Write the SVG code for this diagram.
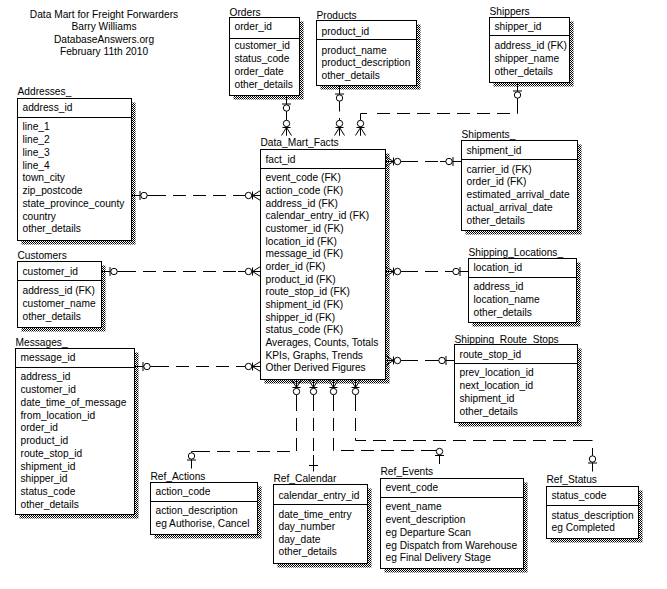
<svg xmlns="http://www.w3.org/2000/svg" xmlns:xlink="http://www.w3.org/1999/xlink" width="667" height="589" viewBox="0 0 667 589">
<style>
.t{font-family:"Liberation Sans",Arial,sans-serif;font-size:10.2px;fill:#000}
.b{fill:#fff;stroke:#000;stroke-width:1}
.s{fill:url(#dots)}
.h{stroke:#000;stroke-width:1}
.c{fill:none;stroke:#000;stroke-width:1}
.d{stroke-dasharray:13 7}
.m line{stroke:#000;stroke-width:1}
.m circle{fill:#fff;stroke:#000;stroke-width:1}
</style>
<defs>
<pattern id="dots" width="2" height="2" patternUnits="userSpaceOnUse">
<rect x="0" y="0" width="1" height="1" fill="#000"/>
<rect x="1" y="1" width="1" height="1" fill="#000"/>
</pattern>
<g id="zo" class="m">
<line x1="8.5" y1="-4.5" x2="8.5" y2="4.5"/>
<circle cx="12.5" cy="0" r="3.2"/>
</g>
<g id="zm" class="m">
<line x1="0" y1="-5" x2="8" y2="0"/>
<line x1="0" y1="5" x2="8" y2="0"/>
<line x1="0" y1="0" x2="8" y2="0"/>
<line x1="8" y1="-4" x2="8" y2="4"/>
<circle cx="12" cy="0" r="3.2"/>
</g>
</defs>
<rect x="0" y="0" width="667" height="589" fill="#fff"/>

<g id="title">
<text class="t" x="104" y="17.7" text-anchor="middle">Data Mart for Freight Forwarders</text>
<text class="t" x="104" y="30.4" text-anchor="middle">Barry Williams</text>
<text class="t" x="104" y="43" text-anchor="middle">DatabaseAnswers.org</text>
<text class="t" x="104" y="55.4" text-anchor="middle">February 11th 2010</text>
</g>

<g id="Addresses">
<rect class="s" x="21.5" y="102.5" width="114" height="142"/>
<rect class="b" x="17.5" y="98.5" width="114" height="142"/>
<line class="h" x1="17.5" y1="117.5" x2="131.5" y2="117.5"/>
<text class="t" x="17.5" y="95">Addresses_</text>
<text class="t" x="22.5" y="111.4">address_id</text>
<text class="t" x="22.5" y="130.3">line_1</text>
<text class="t" x="22.5" y="143.05">line_2</text>
<text class="t" x="22.5" y="155.8">line_3</text>
<text class="t" x="22.5" y="168.55">line_4</text>
<text class="t" x="22.5" y="181.3">town_city</text>
<text class="t" x="22.5" y="194.05">zip_postcode</text>
<text class="t" x="22.5" y="206.8">state_province_county</text>
<text class="t" x="22.5" y="219.55">country</text>
<text class="t" x="22.5" y="232.3">other_details</text>
</g>

<g id="Orders">
<rect class="s" x="233.5" y="21.5" width="70" height="78"/>
<rect class="b" x="229.5" y="17.5" width="70" height="78"/>
<line class="h" x1="229.5" y1="38.5" x2="299.5" y2="38.5"/>
<text class="t" x="229.5" y="15.7">Orders_</text>
<text class="t" x="234.5" y="29.7">order_id</text>
<text class="t" x="234.5" y="49.4">customer_id</text>
<text class="t" x="234.5" y="62.1">status_code</text>
<text class="t" x="234.5" y="74.9">order_date</text>
<text class="t" x="234.5" y="87.6">other_details</text>
</g>

<g id="Products">
<rect class="s" x="320.5" y="24.5" width="100" height="65"/>
<rect class="b" x="316.5" y="20.5" width="100" height="65"/>
<line class="h" x1="316.5" y1="39.5" x2="416.5" y2="39.5"/>
<text class="t" x="316.5" y="18.7">Products</text>
<text class="t" x="321.5" y="34.7">product_id</text>
<text class="t" x="321.5" y="53.5">product_name</text>
<text class="t" x="321.5" y="66">product_description</text>
<text class="t" x="321.5" y="78.5">other_details</text>
</g>

<g id="Shippers">
<rect class="s" x="493.5" y="21.5" width="80" height="65"/>
<rect class="b" x="489.5" y="17.5" width="80" height="65"/>
<line class="h" x1="489.5" y1="35.5" x2="569.5" y2="35.5"/>
<text class="t" x="489.5" y="15.4">Shippers</text>
<text class="t" x="494.5" y="30.4">shipper_id</text>
<text class="t" x="494.5" y="49.4">address_id (FK)</text>
<text class="t" x="494.5" y="62.1">shipper_name</text>
<text class="t" x="494.5" y="74.8">other_details</text>
</g>

<g id="Shipments">
<rect class="s" x="465.5" y="144.5" width="116" height="90"/>
<rect class="b" x="461.5" y="140.5" width="116" height="90"/>
<line class="h" x1="461.5" y1="159.5" x2="577.5" y2="159.5"/>
<text class="t" x="461.5" y="137.7">Shipments_</text>
<text class="t" x="466.5" y="153.7">shipment_id</text>
<text class="t" x="466.5" y="172.7">carrier_id (FK)</text>
<text class="t" x="466.5" y="185.4">order_id (FK)</text>
<text class="t" x="466.5" y="198.1">estimated_arrival_date</text>
<text class="t" x="466.5" y="210.8">actual_arrival_date</text>
<text class="t" x="466.5" y="223.5">other_details</text>
</g>

<g id="Data_Mart_Facts">
<rect class="s" x="264.5" y="153.5" width="125" height="230"/>
<rect class="b" x="260.5" y="149.5" width="125" height="230"/>
<line class="h" x1="260.5" y1="168.5" x2="385.5" y2="168.5"/>
<text class="t" x="260.5" y="146.4">Data_Mart_Facts</text>
<text class="t" x="265.5" y="162.7">fact_id</text>
<text class="t" x="265.5" y="181.4">event_code (FK)</text>
<text class="t" x="265.5" y="194.07">action_code (FK)</text>
<text class="t" x="265.5" y="206.74">address_id (FK)</text>
<text class="t" x="265.5" y="219.41">calendar_entry_id (FK)</text>
<text class="t" x="265.5" y="232.08">customer_id (FK)</text>
<text class="t" x="265.5" y="244.75">location_id (FK)</text>
<text class="t" x="265.5" y="257.42">message_id (FK)</text>
<text class="t" x="265.5" y="270.09">order_id (FK)</text>
<text class="t" x="265.5" y="282.76">product_id (FK)</text>
<text class="t" x="265.5" y="295.43">route_stop_id (FK)</text>
<text class="t" x="265.5" y="308.1">shipment_id (FK)</text>
<text class="t" x="265.5" y="320.77">shipper_id (FK)</text>
<text class="t" x="265.5" y="333.44">status_code (FK)</text>
<text class="t" x="265.5" y="346.11">Averages, Counts, Totals</text>
<text class="t" x="265.5" y="358.78">KPIs, Graphs, Trends</text>
<text class="t" x="265.5" y="371.45">Other Derived Figures</text>
</g>

<g id="Customers">
<rect class="s" x="21.5" y="265.5" width="84" height="66"/>
<rect class="b" x="17.5" y="261.5" width="84" height="66"/>
<line class="h" x1="17.5" y1="280.5" x2="101.5" y2="280.5"/>
<text class="t" x="17.5" y="258.7">Customers</text>
<text class="t" x="22.5" y="274.7">customer_id</text>
<text class="t" x="22.5" y="293.7">address_id (FK)</text>
<text class="t" x="22.5" y="306.7">customer_name</text>
<text class="t" x="22.5" y="319.5">other_details</text>
</g>

<g id="Messages">
<rect class="s" x="19.5" y="352.5" width="119" height="166"/>
<rect class="b" x="15.5" y="348.5" width="119" height="166"/>
<line class="h" x1="15.5" y1="367.5" x2="134.5" y2="367.5"/>
<text class="t" x="15.5" y="346.4">Messages_</text>
<text class="t" x="20.5" y="361.4">message_id</text>
<text class="t" x="20.5" y="380.4">address_id</text>
<text class="t" x="20.5" y="393.13">customer_id</text>
<text class="t" x="20.5" y="405.86">date_time_of_message</text>
<text class="t" x="20.5" y="418.59">from_location_id</text>
<text class="t" x="20.5" y="431.32">order_id</text>
<text class="t" x="20.5" y="444.05">product_id</text>
<text class="t" x="20.5" y="456.78">route_stop_id</text>
<text class="t" x="20.5" y="469.51">shipment_id</text>
<text class="t" x="20.5" y="482.24">shipper_id</text>
<text class="t" x="20.5" y="494.97">status_code</text>
<text class="t" x="20.5" y="507.7">other_details</text>
</g>

<g id="Shipping_Locations">
<rect class="s" x="472.5" y="262.5" width="108" height="64"/>
<rect class="b" x="468.5" y="258.5" width="108" height="64"/>
<line class="h" x1="468.5" y1="277.5" x2="576.5" y2="277.5"/>
<text class="t" x="468.5" y="256">Shipping_Locations_</text>
<text class="t" x="473.5" y="271.4">location_id</text>
<text class="t" x="473.5" y="290.4">address_id</text>
<text class="t" x="473.5" y="303.1">location_name</text>
<text class="t" x="473.5" y="315.9">other_details</text>
</g>

<g id="Shipping_Route_Stops">
<rect class="s" x="458.5" y="348.5" width="123" height="78"/>
<rect class="b" x="454.5" y="344.5" width="123" height="78"/>
<line class="h" x1="454.5" y1="363.5" x2="577.5" y2="363.5"/>
<text class="t" x="454.5" y="342.7">Shipping_Route_Stops_</text>
<text class="t" x="459.5" y="357.7">route_stop_id</text>
<text class="t" x="459.5" y="376.4">prev_location_id</text>
<text class="t" x="459.5" y="389.2">next_location_id</text>
<text class="t" x="459.5" y="402">shipment_id</text>
<text class="t" x="459.5" y="414.6">other_details</text>
</g>

<g id="Ref_Actions">
<rect class="s" x="154.5" y="486.5" width="107" height="52"/>
<rect class="b" x="150.5" y="482.5" width="107" height="52"/>
<line class="h" x1="150.5" y1="501.5" x2="257.5" y2="501.5"/>
<text class="t" x="150.5" y="479.7">Ref_Actions</text>
<text class="t" x="155.5" y="495.4">action_code</text>
<text class="t" x="155.5" y="514.4">action_description</text>
<text class="t" x="155.5" y="527.4">eg Authorise, Cancel</text>
</g>

<g id="Ref_Calendar">
<rect class="s" x="277.5" y="488.5" width="94" height="79"/>
<rect class="b" x="273.5" y="484.5" width="94" height="79"/>
<line class="h" x1="273.5" y1="504.5" x2="367.5" y2="504.5"/>
<text class="t" x="273.5" y="482.4">Ref_Calendar</text>
<text class="t" x="278.5" y="498.7">calendar_entry_id</text>
<text class="t" x="278.5" y="517.7">date_time_entry</text>
<text class="t" x="278.5" y="530.2">day_number</text>
<text class="t" x="278.5" y="542.7">day_date</text>
<text class="t" x="278.5" y="555.3">other_details</text>
</g>

<g id="Ref_Events">
<rect class="s" x="384.5" y="482.5" width="143" height="90"/>
<rect class="b" x="380.5" y="478.5" width="143" height="90"/>
<line class="h" x1="380.5" y1="497.5" x2="523.5" y2="497.5"/>
<text class="t" x="380.5" y="475.4">Ref_Events</text>
<text class="t" x="385.5" y="491.4">event_code</text>
<text class="t" x="385.5" y="510.4">event_name</text>
<text class="t" x="385.5" y="523.15">event_description</text>
<text class="t" x="385.5" y="535.9">eg Departure Scan</text>
<text class="t" x="385.5" y="548.65">eg Dispatch from Warehouse</text>
<text class="t" x="385.5" y="561.4">eg Final Delivery Stage</text>
</g>

<g id="Ref_Status">
<rect class="s" x="550.5" y="490.5" width="92" height="52"/>
<rect class="b" x="546.5" y="486.5" width="92" height="52"/>
<line class="h" x1="546.5" y1="505.5" x2="638.5" y2="505.5"/>
<text class="t" x="546.5" y="483">Ref_Status</text>
<text class="t" x="551.5" y="499.4">status_code</text>
<text class="t" x="551.5" y="518.7">status_description</text>
<text class="t" x="551.5" y="531.4">eg Completed</text>
</g>

<g id="connectors">
<path class="c" d="M286.5,95.5 V135.5"/>
<use xlink:href="#zo" transform="translate(286.5,95.5) rotate(90)"/>
<use xlink:href="#zm" transform="translate(286.5,135.5) rotate(-90)"/>
<path class="c" d="M339.5,85.5 V111.5 M339.5,118 V135.5"/>
<use xlink:href="#zo" transform="translate(339.5,85.5) rotate(90)"/>
<use xlink:href="#zm" transform="translate(339.5,135.5) rotate(-90)"/>
<path class="c" d="M517.5,82.5 V113.5 M360.5,113.5 V135.5 M360.5,113.5 H367"/>
<path class="c d" d="M377,113.5 H517.5"/>
<use xlink:href="#zo" transform="translate(517.5,82.5) rotate(90)"/>
<use xlink:href="#zm" transform="translate(360.5,135.5) rotate(-90)"/>
<path class="c" d="M131.5,195.5 H153 M238,195.5 H260.5"/>
<path class="c d" d="M153,195.5 H238"/>
<use xlink:href="#zo" transform="translate(131.5,195.5)"/>
<use xlink:href="#zm" transform="translate(260.5,195.5) rotate(180)"/>
<path class="c" d="M101.5,271.5 H123 M238,271.5 H260.5"/>
<path class="c d" d="M123,271.5 H238"/>
<use xlink:href="#zo" transform="translate(101.5,271.5)"/>
<use xlink:href="#zm" transform="translate(260.5,271.5) rotate(180)"/>
<path class="c" d="M134.5,366.5 H156 M238,366.5 H260.5"/>
<path class="c d" d="M156,366.5 H238"/>
<use xlink:href="#zo" transform="translate(134.5,366.5)"/>
<use xlink:href="#zm" transform="translate(260.5,366.5) rotate(180)"/>
<path class="c" d="M385.5,161.5 H405 M440,161.5 H461.5"/>
<path class="c d" d="M405,161.5 H440"/>
<use xlink:href="#zm" transform="translate(385.5,161.5)"/>
<use xlink:href="#zo" transform="translate(461.5,161.5) rotate(180)"/>
<path class="c" d="M385.5,271.5 H405 M447,271.5 H468.5"/>
<path class="c d" d="M405,271.5 H447"/>
<use xlink:href="#zm" transform="translate(385.5,271.5)"/>
<use xlink:href="#zo" transform="translate(468.5,271.5) rotate(180)"/>
<path class="c" d="M385.5,360.5 H405 M433,360.5 H454.5"/>
<path class="c d" d="M405,360.5 H433"/>
<use xlink:href="#zm" transform="translate(385.5,360.5)"/>
<use xlink:href="#zo" transform="translate(454.5,360.5) rotate(180)"/>
<path class="c" d="M296.5,379.5 V398 M191.5,451.5 V468.5 M191.5,451.5 H198"/>
<path class="c d" d="M296.5,398 V451.5 H198"/>
<use xlink:href="#zm" transform="translate(296.5,379.5) rotate(90)"/>
<use xlink:href="#zo" transform="translate(191.5,468.5) rotate(-90)"/>
<path class="c" d="M313.5,379.5 V398 M313.5,455 V471.5"/>
<path class="c d" d="M313.5,398 V455"/>
<use xlink:href="#zm" transform="translate(313.5,379.5) rotate(90)"/>
<line class="c" x1="309" y1="465.5" x2="318" y2="465.5"/>
<path class="c" d="M333.5,379.5 V398 M439.5,450.5 V464 M430,450.5 H439.5"/>
<path class="c d" d="M333.5,398 V450.5 H430"/>
<use xlink:href="#zm" transform="translate(333.5,379.5) rotate(90)"/>
<use xlink:href="#zo" transform="translate(439.5,464) rotate(-90)"/>
<path class="c" d="M355.5,379.5 V398 M592.5,448 V471.5 M585,440.5 H592.5"/>
<path class="c d" d="M355.5,398 V440.5 H585"/>
<use xlink:href="#zm" transform="translate(355.5,379.5) rotate(90)"/>
<use xlink:href="#zo" transform="translate(592.5,471.5) rotate(-90)"/>
</g>
</svg>
